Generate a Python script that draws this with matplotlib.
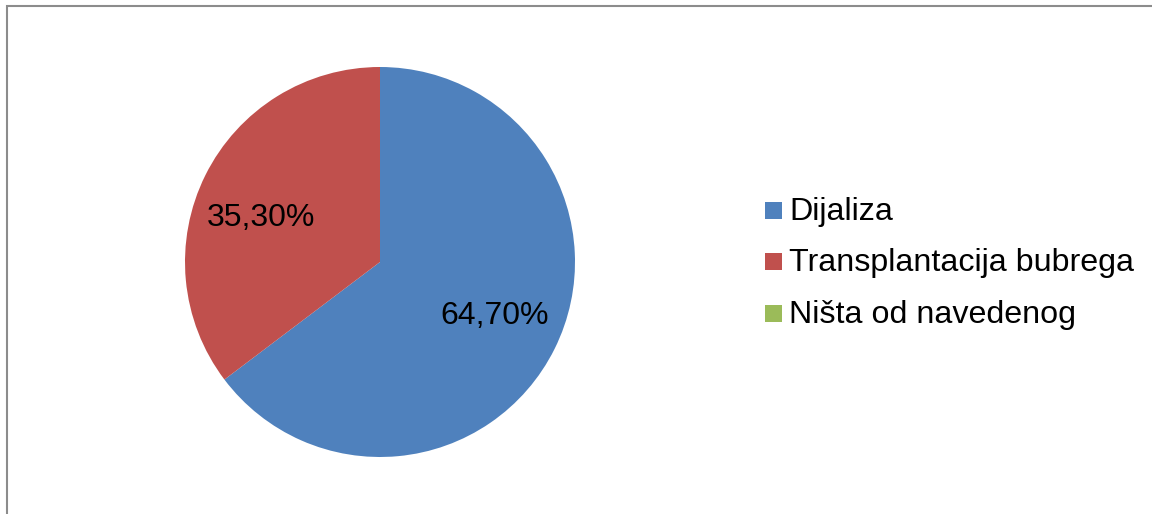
import numpy as np
import matplotlib
matplotlib.use('Agg')
import matplotlib.pyplot as plt
from matplotlib.patches import Rectangle

plt.rcParams['font.family'] = ['Liberation Sans', 'DejaVu Sans']

labels = ['Dijaliza', 'Transplantacija bubrega', 'Ništa od navedenog']
values = [64.7, 35.3, 0.0]
value_text = ['64,70%', '35,30%', '0,00%']
colors = ['#4F81BD', '#C0504D', '#9BBB59']

W, H = 1152, 514
fig = plt.figure(figsize=(W / 100, H / 100), dpi=100)

# okvir grafikona (desni i donji rub izlaze iz slike)
fig.patches.append(Rectangle((7 / W, -0.1), 1.2, 1 - 6 / H + 0.1,
                             transform=fig.transFigure, fill=False,
                             edgecolor='#8c8c8c', linewidth=1.5))

# pita: centar (380, 262), radijus 195 px
cx, cy, r = 380, 262, 195
ax = fig.add_axes([(cx - r) / W, (H - cy - r) / H, 2 * r / W, 2 * r / H])
wedges, _ = ax.pie(values, colors=colors, startangle=90, counterclock=False,
                   radius=1.0, wedgeprops=dict(linewidth=0))
ax.set_xlim(-1, 1)
ax.set_ylim(-1, 1)
ax.set_aspect('equal')
ax.axis('off')

offsets = [(0.008, -0.029), (-0.031, -0.105), (0, 0)]
for w, v, txt, (dx, dy) in zip(wedges, values, value_text, offsets):
    if v <= 0:
        continue
    ang = np.deg2rad((w.theta1 + w.theta2) / 2)
    x, y = 0.65 * np.cos(ang) + dx, 0.65 * np.sin(ang) + dy
    ax.text(x, y, txt, ha='center', va='baseline', fontsize=23, color='black')

# legenda
row_y = [210, 261.5, 313]
for lab, col, ry in zip(labels, colors, row_y):
    fig.patches.append(Rectangle((765 / W, (H - ry - 8.5) / H), 17 / W, 17 / H,
                                 transform=fig.transFigure, facecolor=col,
                                 edgecolor='none'))
    fig.text(789 / W, (H - ry - 10) / H, lab, ha='left', va='baseline',
             fontsize=23.2, color='black')

fig.savefig('out.png', dpi=100, facecolor='white')
